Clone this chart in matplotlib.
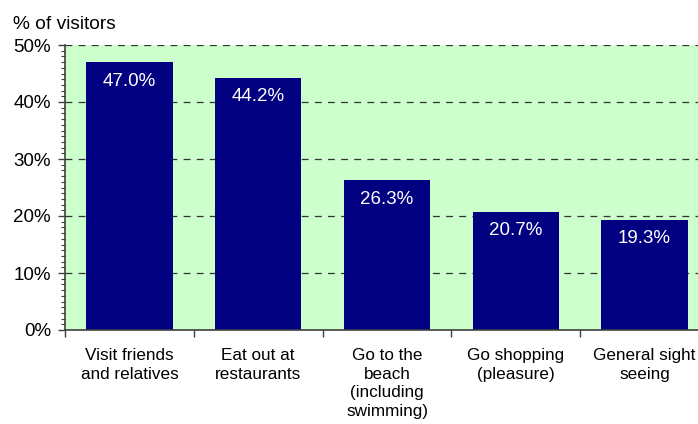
import matplotlib.pyplot as plt
from matplotlib.ticker import MultipleLocator, FuncFormatter

plt.rcParams['font.family'] = ['Liberation Sans', 'DejaVu Sans']

# Datos
categorias = ["Visit friends\nand relatives", "Eat out at\nrestaurants",
              "Go to the\nbeach\n(including\nswimming)", "Go shopping\n(pleasure)",
              "General sight\nseeing"]
valores = [47.0, 44.2, 26.3, 20.7, 19.3]

fig = plt.figure(figsize=(6.98, 4.24), dpi=100)
ax = fig.add_axes([65 / 698, 94 / 424, 644 / 698, 285 / 424])
ax.set_facecolor("#CCFFCC")

x = list(range(len(valores)))
barras = ax.bar(x, valores, width=0.67, color="#000080", zorder=3)

for xi, v in zip(x, valores):
    ax.annotate(f"{v:.1f}%", (xi, v), xytext=(0, -7.5), textcoords="offset points",
                ha="center", va="top", color="white", fontsize=13.5, zorder=4)

ax.set_xlim(-0.5, len(valores) - 0.5)
ax.set_ylim(0, 50)

# Eje Y
ax.yaxis.set_major_locator(MultipleLocator(10))
ax.yaxis.set_minor_locator(MultipleLocator(1))
ax.yaxis.set_major_formatter(FuncFormatter(lambda v, p: f"{v:.0f}%"))
ax.tick_params(axis="y", which="major", length=5, width=1, colors="#404040",
               labelcolor="black", labelsize=13.5, pad=5)
ax.tick_params(axis="y", which="minor", length=3, width=0.8, colors="#404040")
ax.grid(axis="y", which="major", linestyle=(0, (5.5, 5)), color="#333333",
        linewidth=0.9, zorder=1)

# Eje X: marcas en los límites, etiquetas en el centro
ax.set_xticks([i + 0.5 for i in x[:-1]] + [-0.5])
ax.set_xticklabels([])
ax.set_xticks(x, minor=True)
ax.set_xticklabels(categorias, minor=True, fontsize=12.3, linespacing=1.3)
ax.tick_params(axis="x", which="minor", length=0, pad=13)
ax.tick_params(axis="x", which="major", length=5, width=1, colors="#404040")

for s in ["top", "right"]:
    ax.spines[s].set_visible(False)
for s in ["left", "bottom"]:
    ax.spines[s].set_color("#404040")
    ax.spines[s].set_linewidth(1.2)
    ax.spines[s].set_zorder(5)

fig.text(13 / 698, 1 - 29 / 424, "% of visitors", fontsize=13.8, va="baseline")

fig.savefig("out.png", dpi=100)
